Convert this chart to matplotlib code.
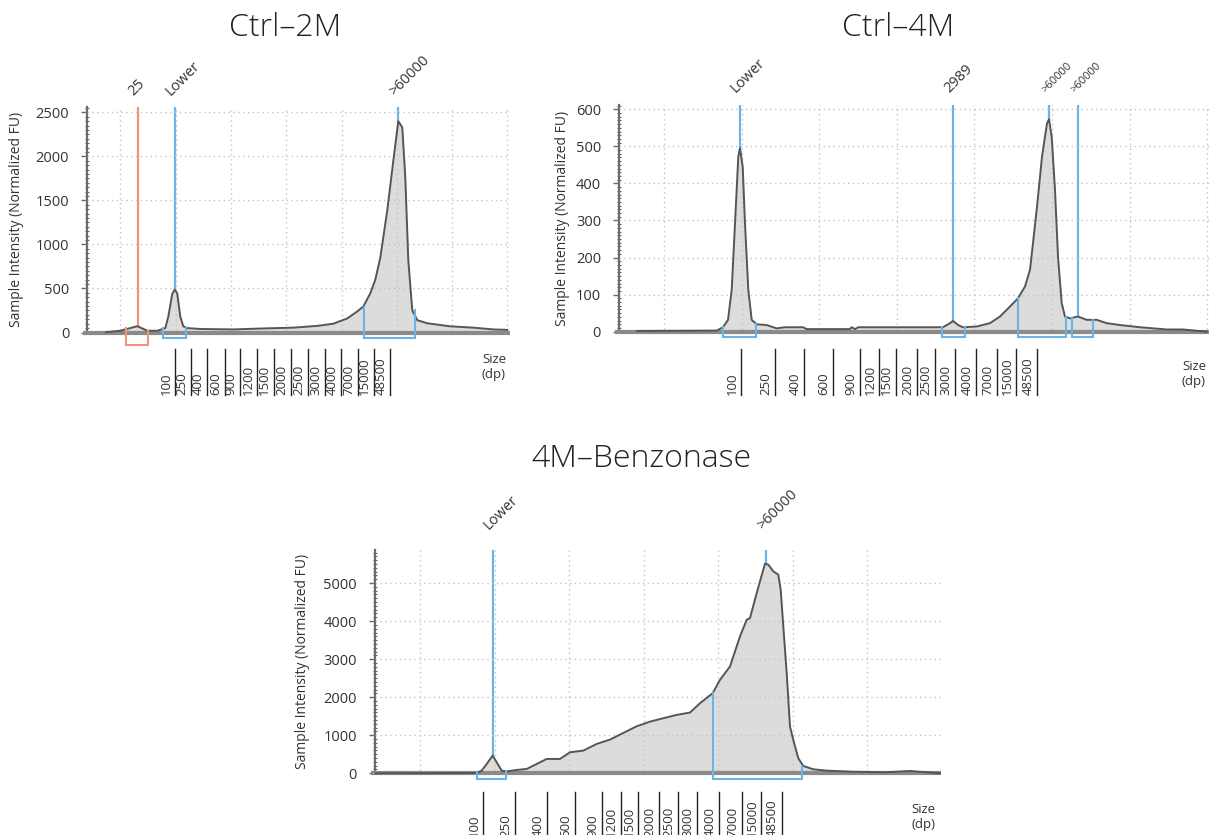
import matplotlib
matplotlib.use("Agg")
import matplotlib.pyplot as plt
import matplotlib.transforms as mtransforms
from matplotlib.ticker import MultipleLocator, FixedLocator

plt.rcParams['font.family'] = ['Open Sans', 'DejaVu Sans']

W, H = 1213, 835
fig = plt.figure(figsize=(W / 100, H / 100), dpi=100)

# ---------------------------------------------------------------- data
titles = ["Ctrl\u20132M", "Ctrl\u20134M", "4M\u2013Benzonase"]
ylabel = "Sample Intensity (Normalized FU)"
ladder_labels = ["100", "250", "400", "600", "900", "1200", "1500", "2000",
                 "2500", "3000", "4000", "7000", "15000", "48500"]

# Ctrl-2M electropherogram (migration position, normalized FU)
c2_pos = [19, 33, 43, 50, 60, 70, 78, 81, 85, 87.5, 90, 93, 96, 100, 113, 146,
          173, 206, 230, 246, 260, 270, 276, 283, 288, 293, 300, 306, 311, 315, 318,
          321, 325, 330, 340, 363, 386, 406, 420]
c2_fu = [5, 20, 50, 72, 20, 20, 50, 180, 440, 490, 440, 180, 70, 50, 40, 35,
         45, 55, 75, 100, 160, 240, 295, 445, 600, 850, 1390, 1950, 2400, 2330, 1760,
         820, 250, 140, 105, 70, 55, 35, 30]
c2_peaks = [50.3, 87.5, 311]
c2_peak_labels = ["25", "Lower", ">60000"]
c2_peak_kind = ["red", "blue", "blue"]
c2_regions = [(38.7, 60.7), (75.7, 98.7), (276.3, 327.3)]
c2_region_kind = ["red", "blue", "blue"]
c2_ladder = [88, 104, 119.7, 137.3, 153, 169.7, 186.3, 204, 220.7, 237.3, 254,
             270.7, 286.3, 303]

# Ctrl-4M electropherogram
c4_pos = [17.7, 97.7, 104, 109, 112.7, 116, 119.3, 121, 123.7, 126, 129.3, 132.7,
          137.7, 147.7, 157.7, 166, 184, 187.7, 231, 232.7, 236, 239.3, 324, 331,
          334, 339, 344, 357.7, 371, 381, 391, 399, 406, 411, 414, 418, 423, 428,
          430, 432.7, 436, 439, 442.7, 446, 451, 459, 467.7, 477.7, 487.7, 501,
          521, 547.7, 564, 587.7]
c4_fu = [2, 3, 12, 32, 113, 292, 472, 495, 445, 292, 113, 32, 20, 18, 9, 12, 12,
         7, 7, 12, 7, 12, 12, 23, 29, 18, 12, 14, 23, 41, 68, 90, 122, 167, 239,
         337, 472, 562, 573, 526, 382, 202, 77, 41, 36, 41, 32, 32, 23, 18, 12, 6,
         6, 0]
c4_peaks = [121, 334, 430, 459.3]
c4_peak_labels = ["Lower", "2989", ">60000", ">60000"]
c4_regions = [(103.7, 137), (322.7, 346), (398.7, 447), (452.7, 473.7)]
c4_ladder = [122, 155.5, 185, 214, 241, 260, 276.5, 297.5, 316, 336, 357, 378,
             397, 418]

# 4M-Benzonase electropherogram
bz_pos = [0, 101.7, 106.7, 111.7, 117.7, 121.7, 126.7, 131.7, 141.7, 151.7, 161.7,
          171.7, 185, 195, 208.3, 221.7, 235, 248.3, 261.7, 275, 288.3, 301.7, 315,
          325, 337.7, 345, 355, 365, 371.7, 375, 381.7, 390, 393.3, 398.3, 403.3,
          405.7, 408.3, 411.7, 415, 418.3, 423.3, 428.3, 438.3, 451.7, 475, 508.3,
          520, 535, 550, 565]
bz_fu = [0, 8, 70, 245, 465, 290, 70, 50, 88, 114, 245, 377, 377, 553, 596, 772,
         886, 1061, 1236, 1358, 1447, 1535, 1596, 1842, 2105, 2456, 2807, 3596,
         4035, 4079, 4737, 5509, 5482, 5307, 5219, 4824, 3859, 2632, 1228, 877,
         395, 193, 105, 70, 44, 26, 40, 61, 30, 0]
bz_peaks = [118, 391]
bz_peak_labels = ["Lower", ">60000"]
bz_regions = [(102.3, 131), (337.7, 426.7)]
bz_ladder = [108, 140, 172, 200, 227, 245.5, 263, 284, 302.5, 322, 344, 366.5,
             386, 406.5]

# ---------------------------------------------------------------- style
BLUE = '#6cb4e6'
RED = '#f4917a'
TRACE = '#555555'
FILL = '#dcdcdc'
GRID = '#c4c4c4'
TXT = '#333333'


def panel(box, ymax, ystep, yminor, vgrid, pos, fu, peaks, peak_labels, peak_kind,
          regions, region_kind, ladder, title, title_xy, ylab_x, size_xy,
          lab_off, lab_sizes, ladder_off):
    left, right, top, base = box
    upp = ymax / (base - top)          # units per pixel
    ax = fig.add_axes([left / W, 1 - (base + 2) / H, (right - left) / W,
                       (base + 2 - top) / H])
    ax.set_xlim(0, right - left)
    ax.set_ylim(-2 * upp, ymax)
    ax.set_facecolor('none')
    for s in ['top', 'right', 'bottom']:
        ax.spines[s].set_visible(False)
    ax.spines['left'].set_color('#6a6a6a')
    ax.spines['left'].set_linewidth(1.6)
    ax.spines['left'].set_bounds(0, ymax)

    ax.yaxis.set_minor_locator(MultipleLocator(yminor))
    ax.set_yticks([v for v in range(0, int(ymax) + 1, ystep)])
    ax.tick_params(axis='y', which='major', length=4, width=1, color='#6a6a6a',
                   labelsize=10.5, labelcolor=TXT, pad=9)
    ax.tick_params(axis='y', which='minor', length=3, width=0.8,
                   color='#6a6a6a', direction='inout')
    ax.xaxis.set_major_locator(FixedLocator(vgrid))
    ax.tick_params(axis='x', length=0, labelbottom=False)
    ax.set_axisbelow(False)
    ax.grid(True, color=GRID, linestyle=(0, (1, 2.5)), linewidth=1.0)

    # peak marker lines (behind the fill)
    for p, k in zip(peaks, peak_kind):
        ax.plot([p, p], [0, ymax], color=BLUE if k == 'blue' else RED,
                lw=1.6, zorder=0.6)
    ax.fill_between(pos, fu, 0, color=FILL, lw=0, zorder=1)
    ax.plot([-4, right - left], [0, 0], color='#8a8a8a', lw=3, zorder=2.7,
            clip_on=False, solid_capstyle='butt')
    ax.plot(pos, fu, color=TRACE, lw=1.4, zorder=3)

    # region brackets below baseline
    for (a, b), k in zip(regions, region_kind):
        depth = (12 if k == 'red' else 5.5) * upp
        ya = max(fu[min(range(len(pos)), key=lambda i: abs(pos[i] - a))], 1.2 * upp)
        yb = max(fu[min(range(len(pos)), key=lambda i: abs(pos[i] - b))], 1.2 * upp)
        ax.plot([a, a, b, b], [ya, -depth, -depth, yb],
                color=BLUE if k == 'blue' else RED, lw=1.5, zorder=3.2,
                clip_on=False, solid_joinstyle='miter')

    # peak labels above plot
    for p, t, fs in zip(peaks, peak_labels, lab_sizes):
        ax.annotate(t, xy=(p, 1), xycoords=('data', 'axes fraction'),
                    xytext=(-4 * 0.72, lab_off * 0.72), textcoords='offset points',
                    rotation=45, rotation_mode='anchor', ha='left', va='baseline',
                    fontsize=fs, color=TXT)

    # ladder size labels below
    hpx = base + 2 - top
    tr = mtransforms.blended_transform_factory(ax.transData, ax.transAxes)
    y1 = -(ladder_off[0] + 2) / hpx
    y2 = -(ladder_off[1] + 2) / hpx
    for x, lab in zip(ladder, ladder_labels):
        ax.plot([x, x], [y1, y2], color='#222222', lw=1.0, transform=tr,
                clip_on=False)
        ax.text(x - 2.5, y2, lab, rotation=90, ha='right', va='bottom',
                fontsize=9.5, color=TXT, transform=tr, clip_on=False)

    fig.text(size_xy[0] / W, 1 - size_xy[1] / H, "Size\n(dp)", ha='center',
             va='center', fontsize=9.5, color=TXT, linespacing=1.2)
    fig.text(ylab_x / W, 1 - (top + base) / 2 / H, ylabel, rotation=90,
             ha='center', va='center', fontsize=10, color=TXT)
    fig.text(title_xy[0] / W, 1 - title_xy[1] / H, title, ha='center',
             va='center', fontsize=23, color='#222222', fontweight='light')
    return ax


panel((87.3, 510, 107, 332.5), 2562, 500, 50,
      [33, 88.3, 143.6, 198.9, 254.2, 309.5, 364.8, 420.1],
      c2_pos, c2_fu, c2_peaks, c2_peak_labels, c2_peak_kind,
      c2_regions, c2_region_kind, c2_ladder, titles[0], (285, 28), 17,
      (494, 367), 11, [10.5, 10.5, 10.5], (12.5, 58.5))

panel((619, 1209, 105, 331.7), 611.6, 100, 10,
      [45, 122.6, 200.2, 277.8, 355.4, 433, 510.6, 588.2],
      c4_pos, c4_fu, c4_peaks, c4_peak_labels, ['blue'] * 4,
      c4_regions, ['blue'] * 4, c4_ladder, titles[1], (898, 28), 563,
      (1194, 374), 12, [10.5, 10.5, 8, 8], (13.3, 59.3))

panel((375, 941, 550, 773.3), 5868, 1000, 100,
      [45, 119.5, 194, 268.5, 343, 417.5, 492, 566.5],
      bz_pos, bz_fu, bz_peaks, bz_peak_labels, ['blue'] * 2,
      bz_regions, ['blue'] * 2, bz_ladder, titles[2], (641, 459), 302,
      (923, 817), 20, [10.5, 10.5], (14.7, 59.7))

fig.savefig("out.png", dpi=100)
